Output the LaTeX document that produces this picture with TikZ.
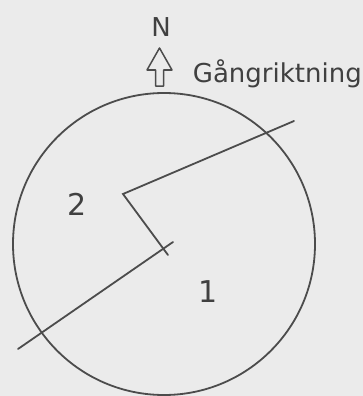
\documentclass[tikz,border=0pt]{standalone}
\usepackage{fontspec}
\setmainfont{DejaVu Sans}

\begin{document}
\begin{tikzpicture}[
  x=1pt,
  y=-1pt,
  line width=1.8pt,
  font=\fontsize{26}{30}\selectfont,
  plan/.style={draw=black!70, line cap=round, line join=miter},
  digit/.style={text=black!75, font=\fontsize{30}{34}\selectfont, inner sep=0pt}
]
\fill[black!8] (0,0) rectangle (363,396);
\useasboundingbox (0,0) rectangle (363,396);

% north arrow and walking direction
\node[text=black!75, inner sep=0pt, anchor=base] (north) at (161,37) {N};
\draw[plan, line width=1.5pt, line join=round]
  (159.5,48) -- (172,70) -- (163.5,70) -- (163.5,86)
  -- (155.5,86) -- (155.5,70) -- (147,70) -- cycle;
\node[text=black!75, inner sep=0pt, anchor=base west] (walk) at (192,82) {Gångriktning};

% plot boundary
\coordinate (centre) at (164,244);
\draw[plan] (centre) circle[radius=151];

% dividing lines
\coordinate (ne) at (294,121);
\coordinate (bend) at (123,194);
\coordinate (tick) at (168,255);
\coordinate (mid) at (173,242);
\coordinate (sw) at (18,349);
\draw[plan] (ne) -- (bend) -- (tick);
\draw[plan] (mid) -- (sw);

% parts
\node[digit] (two) at (77,204) {2};
\node[digit] (one) at (208,292) {1};
\end{tikzpicture}
\end{document}
